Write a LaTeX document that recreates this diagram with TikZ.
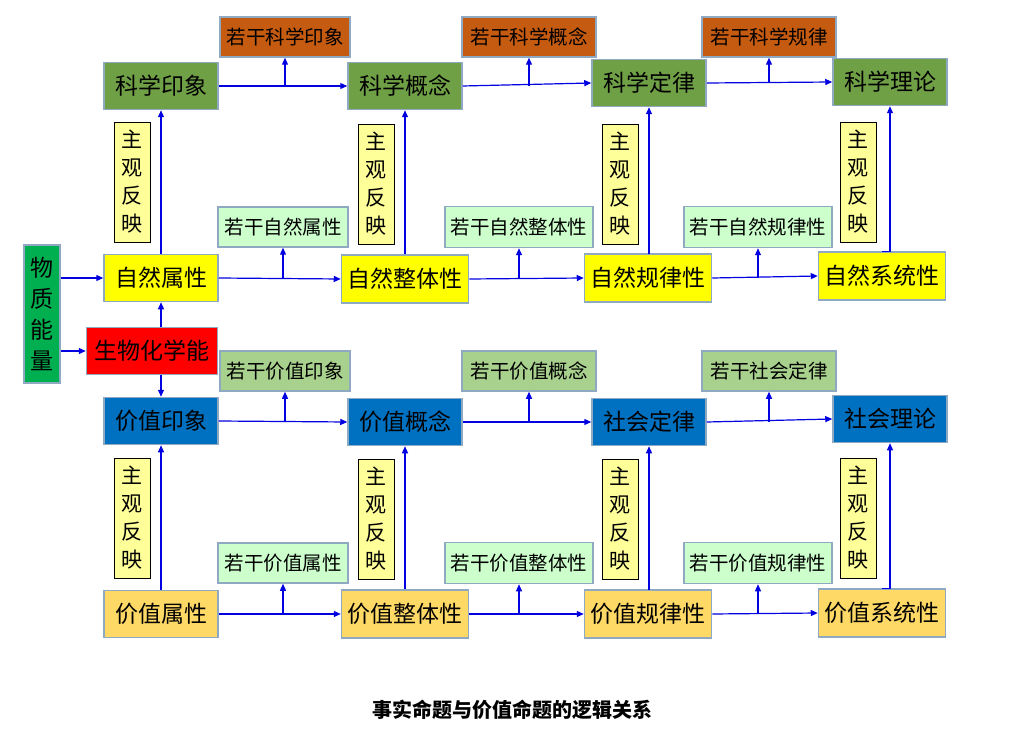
\documentclass[tikz,border=0pt]{standalone}
\usepackage{fontspec}
\newfontfamily\cjk{Noto Sans CJK SC}
\usetikzlibrary{arrows.meta}
\definecolor{cgreen}{HTML}{6FA046}
\definecolor{cbrown}{HTML}{C55A11}
\definecolor{clgreen}{HTML}{CCFFCC}
\definecolor{cyel}{HTML}{FFFF00}
\definecolor{cmat}{HTML}{00B050}
\definecolor{cblue}{HTML}{0070C0}
\definecolor{csage}{HTML}{A9D18E}
\definecolor{corange}{HTML}{FFD966}
\definecolor{cpale}{HTML}{FFFF99}
\definecolor{cedge}{HTML}{8EA9C1}
\definecolor{carrow}{HTML}{0000E0}
\tikzset{
  x=1pt,y=-1pt,
  base/.style={draw=cedge,line width=1.5pt,inner sep=0pt,font=\cjk\fontsize{23}{25}\selectfont},
  mainbox/.style={base,minimum width=114pt,minimum height=47pt},
  widebox/.style={base,minimum width=127pt,minimum height=48pt},
  smallbox/.style={base,font=\cjk\fontsize{19.5}{21}\selectfont,minimum width=130pt,minimum height=40pt},
  smallwide/.style={base,font=\cjk\fontsize{19.5}{21}\selectfont,minimum width=148pt,minimum height=41pt},
  refl/.style={draw=black,line width=0.8pt,fill=cpale,minimum width=36pt,minimum height=120pt,inner sep=0pt,align=center,font=\cjk\fontsize{21}{28}\selectfont},
  arr/.style={draw=carrow,line width=1.2pt,-{Triangle[length=7pt,width=6pt]}}
}
\begin{document}
\begin{tikzpicture}
\useasboundingbox (0,0) rectangle (1009,735);
% top row
\node[mainbox,fill=cgreen] (s1) at (161,86) {科学印象};
\node[mainbox,fill=cgreen] (s2) at (405,86) {科学概念};
\node[mainbox,fill=cgreen] (s3) at (649,83) {科学定律};
\node[mainbox,fill=cgreen] (s4) at (890,82) {科学理论};
\node[smallbox,fill=cbrown] (b1) at (285,37) {若干科学印象};
\node[smallbox,fill=cbrown,minimum width=134pt] (b2) at (529,37) {若干科学概念};
\node[smallbox,fill=cbrown,minimum width=134pt] (b3) at (769,37) {若干科学规律};
% reflections upper
\node[refl] (r1) at (132,182) {主\\观\\反\\映};
\node[refl] (r2) at (376,184) {主\\观\\反\\映};
\node[refl] (r3) at (620,184) {主\\观\\反\\映};
\node[refl] (r4) at (858,182) {主\\观\\反\\映};
% natural
\node[smallbox,fill=clgreen] (g1) at (283,227) {若干自然属性};
\node[smallwide,fill=clgreen] (g2) at (519,227) {若干自然整体性};
\node[smallwide,fill=clgreen] (g3) at (758,227) {若干自然规律性};
\node[mainbox,fill=cyel] (n1) at (161,278) {自然属性};
\node[widebox,fill=cyel] (n2) at (405,279) {自然整体性};
\node[widebox,fill=cyel] (n3) at (648,278) {自然规律性};
\node[widebox,fill=cyel] (n4) at (882,276) {自然系统性};
% source
\node[base,fill=cmat,minimum width=36pt,minimum height=138pt,align=center,font=\cjk\fontsize{23}{31}\selectfont] (m) at (42,314) {物\\质\\能\\量};
\node[base,fill=red,minimum width=131pt,minimum height=47pt] (bio) at (152,351) {生物化学能};
% value upper
\node[smallbox,fill=csage] (v1) at (285,371) {若干价值印象};
\node[smallbox,fill=csage,minimum width=134pt] (v2) at (529,371) {若干价值概念};
\node[smallbox,fill=csage,minimum width=134pt] (v3) at (769,371) {若干社会定律};
\node[mainbox,fill=cblue] (p1) at (161,421) {价值印象};
\node[mainbox,fill=cblue] (p2) at (405,422) {价值概念};
\node[mainbox,fill=cblue] (p3) at (649,422) {社会定律};
\node[mainbox,fill=cblue] (p4) at (890,419) {社会理论};
% reflections lower
\node[refl] (r5) at (132,518) {主\\观\\反\\映};
\node[refl] (r6) at (376,519) {主\\观\\反\\映};
\node[refl] (r7) at (620,519) {主\\观\\反\\映};
\node[refl] (r8) at (858,518) {主\\观\\反\\映};
% value lower
\node[smallbox,fill=clgreen] (w1) at (283,563) {若干价值属性};
\node[smallwide,fill=clgreen] (w2) at (519,563) {若干价值整体性};
\node[smallwide,fill=clgreen] (w3) at (758,563) {若干价值规律性};
\node[mainbox,fill=corange] (q1) at (161,614) {价值属性};
\node[widebox,fill=corange] (q2) at (405,614) {价值整体性};
\node[widebox,fill=corange] (q3) at (648,614) {价值规律性};
\node[widebox,fill=corange] (q4) at (882,613) {价值系统性};
\node[font=\cjk\bfseries\fontsize{20}{22}\selectfont] (cap) at (512,710) {事实命题与价值命题的逻辑关系};
% horizontal arrows with branches
\foreach \a/\b/\s in {s1/s2/b1,s2/s3/b2,s3/s4/b3,n1/n2/g1,n2/n3/g2,n3/n4/g3,p1/p2/v1,p2/p3/v2,p3/p4/v3,q1/q2/w1,q2/q3/w2,q3/q4/w3}{
  \draw[arr] (\a.east) -- (\b.west);
  \coordinate (j\s) at (\s.south |- \a.east);
  \draw[arr] (j\s) -- (\s.south);
}
% vertical arrows
\foreach \a/\b in {n1/s1,n2/s2,n3/s3,n4/s4,q1/p1,q2/p2,q3/p3,q4/p4}{
  \draw[arr] (\a.north) -- (\a.north -| \b.south) -- (\b.south);
}
\draw[arr] (bio.north -| n1.south) -- (n1.south);
\draw[arr] (bio.south -| p1.north) -- (p1.north);
\draw[arr] (m.east |- n1.west) -- (n1.west);
\draw[arr] (m.east |- bio.west) -- (bio.west);
\end{tikzpicture}
\end{document}
